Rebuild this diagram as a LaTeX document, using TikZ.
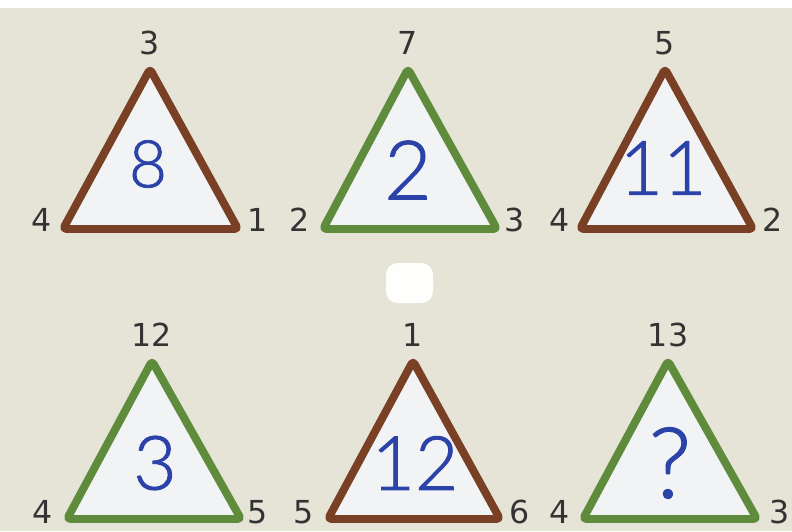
\documentclass[tikz,border=0pt]{standalone}
\usepackage{fontspec}
\newfontfamily\cornerfont{DejaVu Sans}
\newfontfamily\midfont{Lato}[UprightFont={* Light}, FakeBold=1.2]
\definecolor{bg}{HTML}{E5E4D7}
\definecolor{brownline}{HTML}{7A4025}
\definecolor{greenline}{HTML}{5E8C3C}
\definecolor{midblue}{HTML}{2B43A8}
\definecolor{cornergray}{HTML}{333333}
\definecolor{inside}{HTML}{F2F3F5}
\begin{document}
\begin{tikzpicture}[x=0.03cm, y=-0.03cm,
	tri/.style={line width=6.8pt, line join=round, rounded corners=3pt, fill=inside},
	brw/.style={tri, draw=brownline},
	grn/.style={tri, draw=greenline},
	num/.style={text=cornergray, inner sep=0pt, font=\cornerfont\fontsize{27}{27}\selectfont},
	mid/.style={text=midblue, inner sep=0pt, font=\midfont\fontsize{64}{64}\selectfont}]
		% Фон
		\fill[bg] (0,0) rectangle (792,531);
		\fill[white] (0,0) rectangle (792,8);
		\useasboundingbox (0,0) rectangle (792,531);
		\fill[white!95!bg, rounded corners=10pt] (386,263) rectangle (433,303);
		
		% Горен ред
		\coordinate (A1) at (150,69);
		\coordinate (B1) at (63,229);
		\coordinate (C1) at (238,229);
		\draw[brw] (A1) -- (B1) -- (C1) -- cycle;
		\node[mid, font=\midfont\fontsize{56}{56}\selectfont] (m1) at (148,164) {8};
		\node[num] (a1) at (150,43) {3};
		\node[num] (b1) at (42,220) {4};
		\node[num] (c1) at (258,220) {1};
		
		\coordinate (A2) at (408,69);
		\coordinate (B2) at (323,229);
		\coordinate (C2) at (497,229);
		\draw[grn] (A2) -- (B2) -- (C2) -- cycle;
		\node[mid, font=\midfont\fontsize{70}{70}\selectfont] (m2) at (408,170) {2};
		\node[num] (a2) at (408,43) {7};
		\node[num] (b2) at (300,220) {2};
		\node[num] (c2) at (515,220) {3};
		
		\coordinate (A3) at (665,69);
		\coordinate (B3) at (580,229);
		\coordinate (C3) at (753,229);
		\draw[brw] (A3) -- (B3) -- (C3) -- cycle;
		\node[mid] (m3) at (663,168) {11};
		\node[num] (a3) at (665,43) {5};
		\node[num] (b3) at (560,220) {4};
		\node[num] (c3) at (773,220) {2};
		
		% Долен ред
		\coordinate (A4) at (152,361);
		\coordinate (B4) at (67,519);
		\coordinate (C4) at (241,519);
		\draw[grn] (A4) -- (B4) -- (C4) -- cycle;
		\node[mid] (m4) at (155,463) {3};
		\node[num] (a4) at (152,335) {12};
		\node[num] (b4) at (43,512) {4};
		\node[num] (c4) at (258,512) {5};
		
		\coordinate (A5) at (413,361);
		\coordinate (B5) at (328,519);
		\coordinate (C5) at (500,519);
		\draw[brw] (A5) -- (B5) -- (C5) -- cycle;
		\node[mid] (m5) at (415,463) {12};
		\node[num] (a5) at (413,335) {1};
		\node[num] (b5) at (304,512) {5};
		\node[num] (c5) at (520,512) {6};
		
		\coordinate (A6) at (668,361);
		\coordinate (B6) at (583,519);
		\coordinate (C6) at (757,519);
		\draw[grn] (A6) -- (B6) -- (C6) -- cycle;
		\node[mid, font=\midfont\fontsize{84}{84}\selectfont] (m6) at (670,463) {?};
		\node[num] (a6) at (668,335) {13};
		\node[num] (b6) at (560,512) {4};
		\node[num] (c6) at (780,512) {3};
	\end{tikzpicture}
\end{document}
